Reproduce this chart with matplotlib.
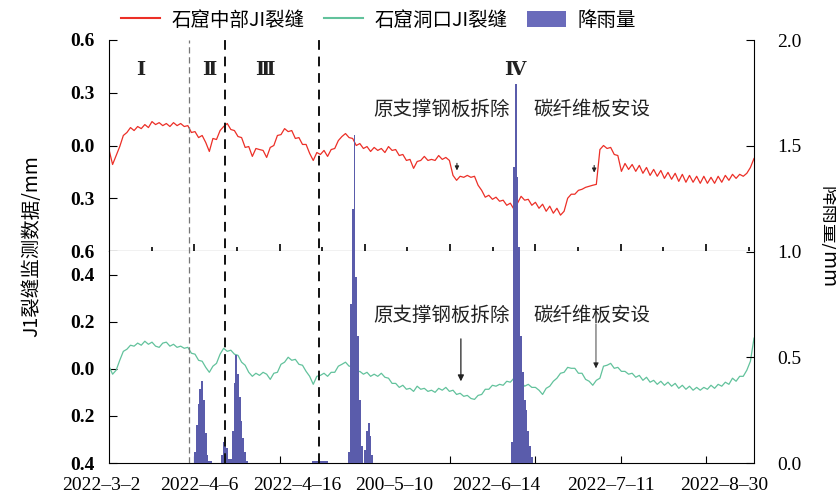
import numpy as np
import matplotlib
matplotlib.use("Agg")
import matplotlib.pyplot as plt
from matplotlib.lines import Line2D
from matplotlib.patches import Patch

plt.rcParams['font.family'] = ['Noto Sans CJK SC', 'DejaVu Sans']
plt.rcParams['axes.unicode_minus'] = False

# daily samples, 2022-3-2 .. 2022-8-30
days = np.arange(181)

# J1 crack, middle of the grotto (mm)
mid_crack = [
    -0.023, -0.108, -0.057, -0.006, 0.057, 0.074, 0.102, 0.085, 0.108, 0.096,
    0.119, 0.102, 0.136, 0.119, 0.130, 0.113, 0.125, 0.108, 0.130, 0.113,
    0.125, 0.108, 0.113, 0.074, 0.079, 0.045, 0.057, 0.017, -0.034, 0.040,
    0.034, 0.085, 0.108, 0.125, 0.091, 0.085, 0.051, 0.045, -0.011, -0.006,
    -0.062, -0.017, -0.023, -0.028, -0.068, -0.011, 0.000, 0.057, 0.062, 0.096,
    0.079, 0.085, 0.040, 0.045, 0.006, 0.006, -0.045, -0.085, -0.040, -0.051,
    -0.028, -0.062, -0.023, -0.017, 0.028, 0.051, 0.068, 0.045, 0.040, 0.000,
    0.011, -0.017, -0.006, -0.034, -0.011, -0.028, -0.017, -0.040, -0.006, -0.028,
    -0.023, -0.057, -0.051, -0.085, -0.079, -0.130, -0.091, -0.085, -0.062, -0.085,
    -0.079, -0.085, -0.057, -0.079, -0.068, -0.085, -0.170, -0.198, -0.175, -0.181,
    -0.170, -0.181, -0.175, -0.226, -0.255, -0.294, -0.283, -0.306, -0.294, -0.317,
    -0.311, -0.340, -0.328, -0.362, -0.328, -0.289, -0.311, -0.306, -0.340, -0.323,
    -0.357, -0.334, -0.374, -0.345, -0.385, -0.357, -0.396, -0.374, -0.300, -0.277,
    -0.277, -0.255, -0.249, -0.238, -0.232, -0.226, -0.221, -0.023, 0.000, -0.017,
    -0.011, -0.051, -0.057, -0.147, -0.102, -0.136, -0.108, -0.147, -0.113, -0.158,
    -0.125, -0.170, -0.136, -0.175, -0.142, -0.187, -0.153, -0.192, -0.158, -0.204,
    -0.164, -0.209, -0.170, -0.209, -0.175, -0.215, -0.175, -0.215, -0.181, -0.215,
    -0.175, -0.209, -0.170, -0.198, -0.164, -0.187, -0.164, -0.175, -0.158, -0.125,
    -0.074,
]

# J1 crack, grotto entrance (mm)
mouth_crack = [
    0.011, -0.023, -0.006, 0.036, 0.074, 0.083, 0.100, 0.096, 0.109, 0.100,
    0.117, 0.104, 0.113, 0.096, 0.091, 0.109, 0.113, 0.096, 0.104, 0.091,
    0.096, 0.087, 0.091, 0.066, 0.062, 0.036, 0.032, 0.006, -0.015, 0.011,
    0.023, 0.062, 0.087, 0.074, 0.079, 0.062, 0.057, 0.028, 0.015, -0.015,
    -0.032, -0.019, -0.028, -0.015, -0.023, -0.045, -0.019, -0.015, 0.019, 0.028,
    0.049, 0.036, 0.040, 0.019, 0.015, -0.011, -0.032, -0.066, -0.032, -0.028,
    -0.019, -0.032, -0.015, -0.015, 0.011, 0.019, 0.028, 0.011, 0.011, -0.015,
    -0.011, -0.023, -0.015, -0.032, -0.023, -0.032, -0.019, -0.036, -0.040, -0.062,
    -0.062, -0.079, -0.070, -0.087, -0.083, -0.096, -0.074, -0.087, -0.083, -0.096,
    -0.091, -0.100, -0.083, -0.091, -0.079, -0.096, -0.091, -0.109, -0.104, -0.117,
    -0.113, -0.126, -0.130, -0.113, -0.109, -0.087, -0.087, -0.070, -0.074, -0.066,
    -0.070, -0.053, -0.057, -0.040, -0.049, -0.057, -0.074, -0.066, -0.079, -0.079,
    -0.091, -0.109, -0.083, -0.074, -0.053, -0.040, -0.019, -0.015, 0.006, 0.002,
    0.002, -0.019, -0.019, -0.045, -0.053, -0.070, -0.049, -0.040, 0.011, 0.015,
    0.023, 0.002, 0.006, -0.011, -0.011, -0.023, -0.019, -0.036, -0.028, -0.049,
    -0.036, -0.057, -0.049, -0.066, -0.053, -0.070, -0.057, -0.074, -0.062, -0.083,
    -0.070, -0.087, -0.074, -0.091, -0.079, -0.091, -0.079, -0.087, -0.070, -0.083,
    -0.066, -0.074, -0.057, -0.066, -0.040, -0.053, -0.032, -0.032, -0.006, 0.032,
    0.130,
]

# rainfall (mm), half-day bins
rain_day = [24.0, 24.5, 25.0, 25.5, 26.0, 26.5, 27.0, 27.5, 28.0, 28.5,
            31.5, 32.0, 32.5, 33.0, 33.5,
            34.0, 34.5, 35.0, 35.5, 36.0, 36.5, 37.0, 37.5, 38.0, 38.5,
            57.0, 57.5, 58.0, 58.5, 59.0, 59.5, 60.0, 60.5, 61.0,
            67.0, 67.5, 68.0, 68.5, 69.0, 69.5, 70.0, 70.5,
            71.5, 72.0, 72.5, 73.0, 73.5,
            112.5, 113.0, 113.5, 114.0, 114.5, 115.0, 115.5, 116.0, 116.5,
            117.0, 117.5, 118.0]
rain_mm = [0.05, 0.18, 0.28, 0.35, 0.39, 0.30, 0.14, 0.04, 0.01, 0.01,
           0.04, 0.10, 0.12, 0.07, 0.02,
           0.02, 0.15, 0.38, 0.51, 0.42, 0.31, 0.20, 0.12, 0.05, 0.01,
           0.008, 0.008, 0.008, 0.008, 0.008, 0.008, 0.008, 0.008, 0.008,
           0.05, 0.75, 1.20, 1.55, 0.88, 0.60, 0.30, 0.08,
           0.06, 0.15, 0.19, 0.13, 0.04,
           0.10, 1.40, 1.79, 1.35, 1.02, 0.60, 0.43, 0.30, 0.25,
           0.15, 0.08, 0.03]

date_pos = [-2.2, 25.1, 52.5, 79.5, 108.0, 140.0, 171.6]
date_labels = ['2022–3–2', '2022–4–6', '2022–4–16', '200–5–10',
               '2022–6–14', '2022–7–11', '2022–8–30']

top_ticks = [-0.6, -0.3, 0.0, 0.3, 0.6]
bot_ticks = [-0.4, -0.2, 0.0, 0.2, 0.4]
rain_ticks = [0.0, 0.5, 1.0, 1.5, 2.0]

stage_pos = [8.9, 27.9, 43.5, 113.3]
stage_names = ['Ⅰ', 'Ⅱ', 'Ⅲ', 'Ⅳ']

RED = '#ec2f27'
TEAL = '#62c29c'
RAIN = '#5a5cab'
SERIF = 'Liberation Serif'

W, H = 837, 500
fig = plt.figure(figsize=(W / 100, H / 100), dpi=100)


def box(x0, y0, x1, y1):
    return [x0 / W, 1 - y1 / H, (x1 - x0) / W, (y1 - y0) / H]


ax_top = fig.add_axes(box(109, 40, 754, 251))
ax_bot = fig.add_axes(box(109, 251, 754, 463))
ax_rain = fig.add_axes(box(109, 40, 754, 463))
ax_rain.patch.set_alpha(0)

for ax in (ax_top, ax_bot, ax_rain):
    ax.set_xlim(0, 180)

# top panel: middle crack
ax_top.plot(days, mid_crack, color=RED, lw=0.9)
ax_top.set_ylim(-0.6, 0.6)
ax_top.spines[['top', 'right']].set_visible(False)
ax_top.set_yticks(top_ticks)
ax_top.set_yticklabels([f'{abs(t):.1f}' for t in top_ticks],
                       fontfamily=SERIF, fontweight='bold', fontsize=14)
ax_top.set_xticks(np.arange(1, 8) * 23.8)
ax_top.set_xticks(np.arange(1, 16, 2) * 11.9, minor=True)
ax_top.tick_params(axis='x', which='major', direction='in', length=5,
                   width=1.2, labelbottom=False)
ax_top.tick_params(axis='x', which='minor', direction='in', length=3, width=1.2)
ax_top.tick_params(axis='y', direction='in', length=6, pad=10)

# bottom panel: entrance crack
ax_bot.plot(days, mouth_crack, color=TEAL, lw=0.9)
ax_bot.set_ylim(-0.4, 0.5)
ax_bot.spines[['top', 'right']].set_visible(False)
ax_bot.set_yticks(bot_ticks)
ax_bot.set_yticklabels([f'{abs(t):.1f}' for t in bot_ticks],
                       fontfamily=SERIF, fontweight='bold', fontsize=14)
ax_bot.set_xticks(np.arange(1, 8) * 23.8)
ax_bot.tick_params(axis='x', direction='in', length=5, labelbottom=False)
ax_bot.tick_params(axis='y', direction='in', length=6, pad=10)
for p, s in zip(date_pos, date_labels):
    ax_bot.text(p, -0.105, s, transform=ax_bot.get_xaxis_transform(),
                ha='center', va='center', fontsize=14, fontfamily=SERIF)

# rainfall on the right axis, spanning both panels;
# each rain event is one filled step outline so the bins don't show seams
rd = np.asarray(rain_day)
rm = np.asarray(rain_mm)
breaks = np.where(np.diff(rd) > 0.51)[0] + 1
for seg_d, seg_m in zip(np.split(rd, breaks), np.split(rm, breaks)):
    edges = np.append(seg_d - 0.25, seg_d[-1] + 0.25)
    ax_rain.stairs(seg_m, edges, fill=True, color=RAIN, lw=0)
ax_rain.set_ylim(0, 2.0)
ax_rain.xaxis.set_visible(False)
ax_rain.yaxis.tick_right()
ax_rain.spines[['top', 'left', 'bottom']].set_visible(False)
ax_rain.set_yticks(rain_ticks)
ax_rain.set_yticklabels([f'{t:.1f}' for t in rain_ticks],
                        fontfamily=SERIF, fontsize=14)
ax_rain.tick_params(axis='y', direction='in', length=6, pad=17)

# stage boundaries
ax_rain.axvline(22.3, color='#777777', lw=0.9, dashes=(5, 3))
ax_rain.axvline(32.4, color='#111111', lw=1.4, dashes=(5, 3.5))
ax_rain.axvline(58.6, color='#111111', lw=1.4, dashes=(5, 3.5))

for p, s in zip(stage_pos, stage_names):
    ax_rain.text(p, 1.86, s, ha='center', va='center', fontsize=14,
                 fontweight='bold', color='#222222',
                 family=['DejaVu Serif', 'DejaVu Sans'])

# construction events
for yv in (1.67, 0.70):
    ax_rain.text(92.8, yv, '原支撑钢板拆除', ha='center', va='center',
                 fontsize=14, color='#222222')
    ax_rain.text(134.7, yv, '碳纤维板安设', ha='center', va='center',
                 fontsize=14, color='#222222')

small = dict(arrowstyle='-|>', color='#222222', lw=0.8, mutation_scale=6)
ax_rain.annotate('', xy=(97.1, 1.37), xytext=(97.1, 1.43), arrowprops=small)
ax_rain.annotate('', xy=(135.4, 1.36), xytext=(135.4, 1.42), arrowprops=small)
ax_rain.annotate('', xy=(98.2, 0.373), xytext=(98.2, 0.60),
                 arrowprops=dict(arrowstyle='-|>', color='#222222', lw=0.9,
                                 mutation_scale=9))
ax_rain.annotate('', xy=(135.9, 0.435), xytext=(135.9, 0.671),
                 arrowprops=dict(arrowstyle='-|>', color='#222222', lw=0.6,
                                 mutation_scale=8))

# axis titles
fig.text(32 / W, 1 - 246 / H, 'J1裂缝监测数据/mm', rotation=90,
         ha='center', va='center', fontsize=14)
fig.text(828 / W, 1 - 237 / H, '降雨量/mm', rotation=270,
         ha='center', va='center', fontsize=14)

handles = [Line2D([], [], color=RED, lw=1.5),
           Line2D([], [], color=TEAL, lw=1.5),
           Patch(facecolor='#6a6bbb', edgecolor='none')]
fig.legend(handles, ['石窟中部JI裂缝', '石窟洞口JI裂缝', '降雨量'],
           loc='center', bbox_to_anchor=(0.452, 0.96), ncol=3, frameon=False,
           fontsize=14, handlelength=2.0, handleheight=0.9,
           handletextpad=0.6, columnspacing=1.0)

fig.savefig('out.png', dpi=100)
